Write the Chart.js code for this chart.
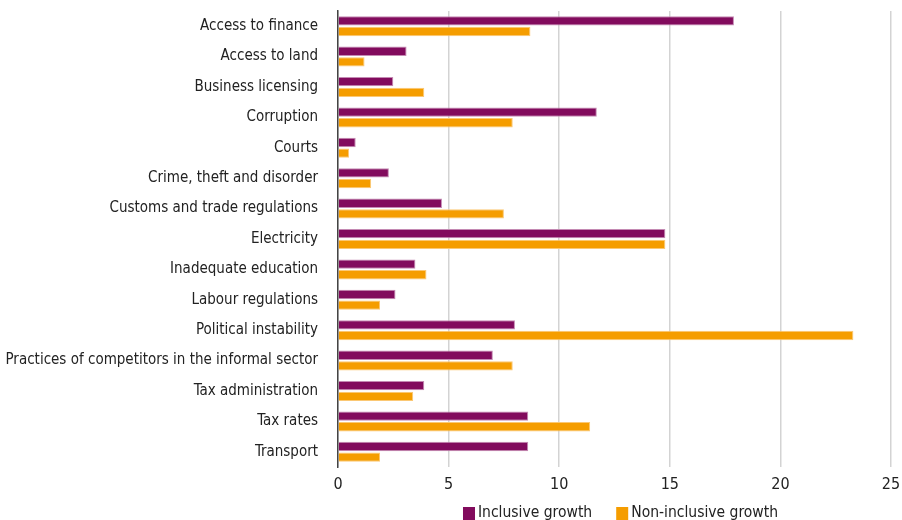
<!DOCTYPE html>
<html>
<head>
<meta charset="utf-8">
<script src="https://cdn.jsdelivr.net/npm/chart.js@4"></script>
<style>
  html, body { margin: 0; padding: 0; background: #fff; overflow: hidden; }
</style>
</head>
<body>
<canvas id="obstaclesChart" width="902" height="520"></canvas>
<script>
var categories = [
  'Access to finance',
  'Access to land',
  'Business licensing',
  'Corruption',
  'Courts',
  'Crime, theft and disorder',
  'Customs and trade regulations',
  'Electricity',
  'Inadequate education',
  'Labour regulations',
  'Political instability',
  'Practices of competitors in the informal sector',
  'Tax administration',
  'Tax rates',
  'Transport'
];
var inclusive = [17.9, 3.1, 2.5, 11.7, 0.8, 2.3, 4.7, 14.8, 3.5, 2.6, 8.0, 7.0, 3.9, 8.6, 8.6];
var nonInclusive = [8.7, 1.2, 3.9, 7.9, 0.5, 1.5, 7.5, 14.8, 4.0, 1.9, 23.3, 7.9, 3.4, 11.4, 1.9];
var xTicks = [0, 5, 10, 15, 20, 25];

var fontFamily = "'DejaVu Sans Condensed', 'Liberation Sans', sans-serif";

// legend drawn by hand: small square right next to its text, centred under the plot
var bottomLegend = {
  id: 'bottomLegend',
  afterDraw: function (chart) {
    var ctx = chart.ctx;
    var area = chart.chartArea;
    var sets = chart.data.datasets;
    var box = 12, gap = 3, spacing = 24, y = 512;
    ctx.save();
    ctx.font = '15.5px ' + fontFamily;
    ctx.textBaseline = 'middle';
    ctx.textAlign = 'left';
    var widths = sets.map(function (ds) { return ctx.measureText(ds.label).width; });
    var total = 0;
    widths.forEach(function (w, i) { total += box + gap + w + (i ? spacing : 0); });
    var x = (area.left + area.right) / 2 + 6 - total / 2;
    sets.forEach(function (ds, i) {
      ctx.fillStyle = ds.backgroundColor;
      ctx.fillRect(x, y - 5, box, 13);
      ctx.fillStyle = '#222';
      ctx.fillText(ds.label, x + box + gap, y + 1);
      x += box + gap + widths[i] + spacing;
    });
    ctx.restore();
  }
};

new Chart('obstaclesChart', {
  type: 'bar',
  data: {
    labels: categories,
    datasets: [{
      label: 'Inclusive growth',
      data: inclusive,
      backgroundColor: '#820b5d',
      borderColor: '#c48ab3',
      borderWidth: 1
    }, {
      label: 'Non-inclusive growth',
      data: nonInclusive,
      backgroundColor: '#f59d00',
      borderColor: '#fbc874',
      borderWidth: 1
    }]
  },
  options: {
    indexAxis: 'y',
    responsive: false,
    animation: false,
    categoryPercentage: 0.7,
    barPercentage: 0.88,
    layout: { padding: { top: 11, right: 11, left: 0, bottom: 27 } },
    scales: {
      x: {
        min: 0,
        max: 25,
        afterBuildTicks: function (scale) {
          scale.ticks = xTicks.map(function (v) { return { value: v }; });
        },
        afterFit: function (scale) {
          scale.height = 26;
          scale.paddingLeft = 0;
          scale.paddingRight = 0;
        },
        grid: { color: '#d3d3d3', lineWidth: 1.5, drawTicks: false },
        border: { display: false },
        ticks: {
          color: '#222',
          padding: 8,
          font: { family: fontFamily, size: 16 }
        }
      },
      y: {
        afterFit: function (scale) {
          scale.width = 338;
          scale.paddingTop = 0;
          scale.paddingBottom = 0;
        },
        grid: { display: false },
        border: { display: true, color: '#444', width: 1.5 },
        ticks: {
          color: '#222',
          padding: 12,
          font: { family: fontFamily, size: 15 }
        }
      }
    },
    plugins: {
      legend: { display: false },
      tooltip: { enabled: false }
    }
  },
  plugins: [bottomLegend]
});
</script>
</body>
</html>
